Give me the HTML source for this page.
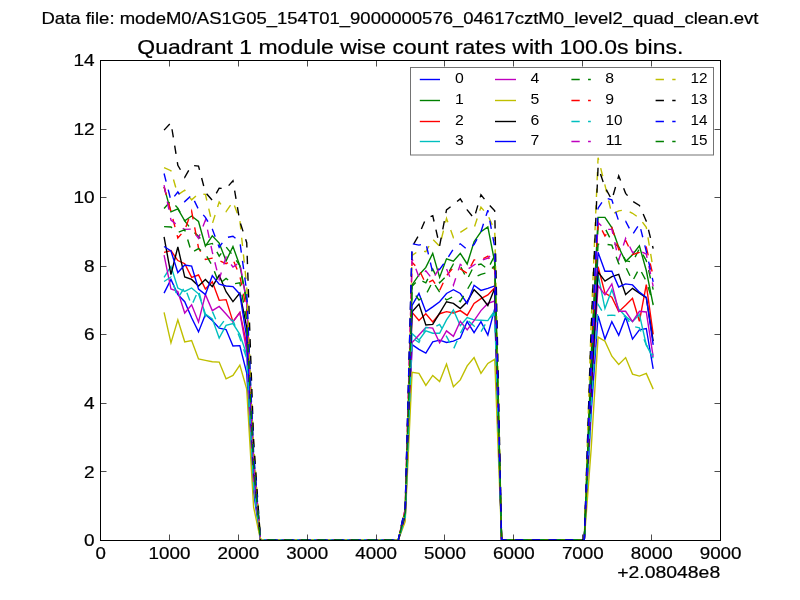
<!DOCTYPE html>
<html><head><meta charset="utf-8"><title>Quadrant 1 module wise count rates</title>
<style>
html,body{margin:0;padding:0;background:#fff;}
body{width:800px;height:600px;overflow:hidden;font-family:"Liberation Sans",sans-serif;}
svg{display:block;font-family:"Liberation Sans",sans-serif;}
</style></head><body>
<svg width="800" height="600" viewBox="0 0 800 600" style="will-change:transform">
<rect width="800" height="600" fill="#ffffff"/>
<defs><clipPath id="ax"><rect x="100" y="60" width="620" height="480"/></clipPath></defs>
<g clip-path="url(#ax)" fill="none" stroke-width="1.39" stroke-linejoin="miter" stroke-miterlimit="4" stroke-linecap="butt">
<polyline points="164.07,293.14 170.96,279.43 177.84,294.51 184.73,301.71 191.62,317.83 198.51,331.89 205.40,314.40 212.29,320.57 219.18,328.11 226.07,329.49 232.96,345.94 239.84,345.60 246.73,373.03 253.62,492.00 260.51,540.00 267.40,540.00 274.29,540.00 281.18,540.00 288.07,540.00 294.96,540.00 301.84,540.00 308.73,540.00 315.62,540.00 322.51,540.00 329.40,540.00 336.29,540.00 343.18,540.00 350.07,540.00 356.96,540.00 363.84,540.00 370.73,540.00 377.62,540.00 384.51,540.00 391.40,540.00 398.29,540.00 405.18,518.40 412.07,344.57 418.96,349.37 425.84,353.14 432.73,341.83 439.62,340.11 446.51,342.51 453.40,341.14 460.29,338.06 467.18,321.60 474.07,332.57 480.96,321.60 487.84,334.97 494.73,308.57 501.62,540.00 508.51,540.00 515.40,540.00 522.29,540.00 529.18,540.00 536.07,540.00 542.96,540.00 549.84,540.00 556.73,540.00 563.62,540.00 570.51,540.00 577.40,540.00 584.29,540.00 591.18,412.11 598.07,315.77 604.96,339.09 611.84,321.60 618.73,335.31 625.62,317.14 632.51,339.09 639.40,329.83 646.29,328.46 653.18,368.91" stroke="#0000ff"/>
<polyline points="164.07,186.86 170.96,211.89 177.84,208.80 184.73,220.80 191.62,216.00 198.51,221.49 205.40,246.17 212.29,235.89 219.18,243.09 226.07,260.91 232.96,246.51 239.84,265.71 246.73,300.00 253.62,458.06 260.51,540.00 267.40,540.00 274.29,540.00 281.18,540.00 288.07,540.00 294.96,540.00 301.84,540.00 308.73,540.00 315.62,540.00 322.51,540.00 329.40,540.00 336.29,540.00 343.18,540.00 350.07,540.00 356.96,540.00 363.84,540.00 370.73,540.00 377.62,540.00 384.51,540.00 391.40,540.00 398.29,540.00 405.18,511.89 412.07,284.91 418.96,274.97 425.84,267.43 432.73,253.37 439.62,277.37 446.51,258.86 453.40,261.26 460.29,253.37 467.18,264.00 474.07,241.71 480.96,231.77 487.84,226.97 494.73,262.29 501.62,540.00 508.51,540.00 515.40,540.00 522.29,540.00 529.18,540.00 536.07,540.00 542.96,540.00 549.84,540.00 556.73,540.00 563.62,540.00 570.51,540.00 577.40,540.00 584.29,540.00 591.18,356.23 598.07,217.37 604.96,217.37 611.84,227.66 618.73,247.20 625.62,261.60 632.51,254.74 639.40,245.83 646.29,270.51 653.18,305.14" stroke="#008000"/>
<polyline points="164.07,252.34 170.96,250.63 177.84,260.57 184.73,263.66 191.62,277.37 198.51,274.97 205.40,289.03 212.29,281.83 219.18,300.34 226.07,299.66 232.96,321.60 239.84,312.34 246.73,344.57 253.62,476.23 260.51,540.00 267.40,540.00 274.29,540.00 281.18,540.00 288.07,540.00 294.96,540.00 301.84,540.00 308.73,540.00 315.62,540.00 322.51,540.00 329.40,540.00 336.29,540.00 343.18,540.00 350.07,540.00 356.96,540.00 363.84,540.00 370.73,540.00 377.62,540.00 384.51,540.00 391.40,540.00 398.29,540.00 405.18,514.97 412.07,312.34 418.96,320.57 425.84,313.71 432.73,321.94 439.62,313.71 446.51,311.66 453.40,313.03 460.29,310.63 467.18,315.43 474.07,303.43 480.96,298.63 487.84,294.86 494.73,287.66 501.62,540.00 508.51,540.00 515.40,540.00 522.29,540.00 529.18,540.00 536.07,540.00 542.96,540.00 549.84,540.00 556.73,540.00 563.62,540.00 570.51,540.00 577.40,540.00 584.29,540.00 591.18,384.34 598.07,266.74 604.96,293.14 611.84,297.26 618.73,311.66 625.62,305.14 632.51,298.29 639.40,321.26 646.29,284.57 653.18,334.29" stroke="#ff0000"/>
<polyline points="164.07,277.37 170.96,266.40 177.84,288.00 184.73,291.43 191.62,288.00 198.51,293.83 205.40,314.06 212.29,318.86 219.18,338.06 226.07,325.37 232.96,323.66 239.84,334.29 246.73,354.86 253.62,485.49 260.51,540.00 267.40,540.00 274.29,540.00 281.18,540.00 288.07,540.00 294.96,540.00 301.84,540.00 308.73,540.00 315.62,540.00 322.51,540.00 329.40,540.00 336.29,540.00 343.18,540.00 350.07,540.00 356.96,540.00 363.84,540.00 370.73,540.00 377.62,540.00 384.51,540.00 391.40,540.00 398.29,540.00 405.18,517.37 412.07,333.60 418.96,340.11 425.84,330.86 432.73,333.26 439.62,333.26 446.51,319.89 453.40,309.94 460.29,325.71 467.18,317.49 474.07,319.89 480.96,320.23 487.84,320.57 494.73,310.63 501.62,540.00 508.51,540.00 515.40,540.00 522.29,540.00 529.18,540.00 536.07,540.00 542.96,540.00 549.84,540.00 556.73,540.00 563.62,540.00 570.51,540.00 577.40,540.00 584.29,540.00 591.18,388.80 598.07,274.97 604.96,308.57 611.84,289.71 618.73,308.91 625.62,316.46 632.51,321.60 639.40,314.40 646.29,344.91 653.18,358.29" stroke="#00bfbf"/>
<polyline points="164.07,255.09 170.96,289.03 177.84,291.43 184.73,313.03 191.62,304.80 198.51,321.94 205.40,294.51 212.29,310.63 219.18,306.51 226.07,314.06 232.96,321.94 239.84,312.69 246.73,351.43 253.62,479.31 260.51,540.00 267.40,540.00 274.29,540.00 281.18,540.00 288.07,540.00 294.96,540.00 301.84,540.00 308.73,540.00 315.62,540.00 322.51,540.00 329.40,540.00 336.29,540.00 343.18,540.00 350.07,540.00 356.96,540.00 363.84,540.00 370.73,540.00 377.62,540.00 384.51,540.00 391.40,540.00 398.29,540.00 405.18,518.40 412.07,342.51 418.96,334.97 425.84,327.43 432.73,328.11 439.62,342.86 446.51,330.86 453.40,336.34 460.29,321.26 467.18,329.83 474.07,320.57 480.96,310.63 487.84,303.43 494.73,301.03 501.62,540.00 508.51,540.00 515.40,540.00 522.29,540.00 529.18,540.00 536.07,540.00 542.96,540.00 549.84,540.00 556.73,540.00 563.62,540.00 570.51,540.00 577.40,540.00 584.29,540.00 591.18,394.97 598.07,285.60 604.96,294.86 611.84,283.89 618.73,311.31 625.62,311.31 632.51,321.60 639.40,311.31 646.29,312.00 653.18,356.91" stroke="#bf00bf"/>
<polyline points="164.07,312.34 170.96,342.86 177.84,319.89 184.73,341.83 191.62,340.46 198.51,358.97 205.40,360.34 212.29,361.71 219.18,362.06 226.07,378.86 232.96,375.43 239.84,365.14 246.73,389.14 253.62,507.09 260.51,540.00 267.40,540.00 274.29,540.00 281.18,540.00 288.07,540.00 294.96,540.00 301.84,540.00 308.73,540.00 315.62,540.00 322.51,540.00 329.40,540.00 336.29,540.00 343.18,540.00 350.07,540.00 356.96,540.00 363.84,540.00 370.73,540.00 377.62,540.00 384.51,540.00 391.40,540.00 398.29,540.00 405.18,521.49 412.07,372.34 418.96,373.37 425.84,385.37 432.73,375.43 439.62,381.60 446.51,364.11 453.40,386.74 460.29,379.89 467.18,365.83 474.07,357.60 480.96,373.37 487.84,363.43 494.73,359.31 501.62,540.00 508.51,540.00 515.40,540.00 522.29,540.00 529.18,540.00 536.07,540.00 542.96,540.00 549.84,540.00 556.73,540.00 563.62,540.00 570.51,540.00 577.40,540.00 584.29,540.00 591.18,448.80 598.07,337.03 604.96,341.14 611.84,356.23 618.73,364.46 625.62,357.60 632.51,374.06 639.40,376.11 646.29,373.37 653.18,389.14" stroke="#bfbf00"/>
<polyline points="164.07,236.91 170.96,274.63 177.84,246.86 184.73,277.03 191.62,279.43 198.51,285.94 205.40,279.43 212.29,286.63 219.18,275.31 226.07,291.77 232.96,301.71 239.84,293.14 246.73,327.43 253.62,469.03 260.51,540.00 267.40,540.00 274.29,540.00 281.18,540.00 288.07,540.00 294.96,540.00 301.84,540.00 308.73,540.00 315.62,540.00 322.51,540.00 329.40,540.00 336.29,540.00 343.18,540.00 350.07,540.00 356.96,540.00 363.84,540.00 370.73,540.00 377.62,540.00 384.51,540.00 391.40,540.00 398.29,540.00 405.18,514.97 412.07,311.66 418.96,304.11 425.84,325.03 432.73,324.34 439.62,313.03 446.51,301.71 453.40,303.43 460.29,308.57 467.18,301.71 474.07,289.71 480.96,296.57 487.84,305.49 494.73,288.34 501.62,540.00 508.51,540.00 515.40,540.00 522.29,540.00 529.18,540.00 536.07,540.00 542.96,540.00 549.84,540.00 556.73,540.00 563.62,540.00 570.51,540.00 577.40,540.00 584.29,540.00 591.18,387.09 598.07,271.89 604.96,281.14 611.84,276.69 618.73,274.29 625.62,294.51 632.51,288.34 639.40,293.14 646.29,297.60 653.18,341.14" stroke="#000000"/>
<polyline points="164.07,246.51 170.96,250.97 177.84,272.57 184.73,265.03 191.62,266.06 198.51,289.03 205.40,294.51 212.29,275.66 219.18,284.23 226.07,285.94 232.96,286.63 239.84,294.17 246.73,337.71 253.62,467.31 260.51,540.00 267.40,540.00 274.29,540.00 281.18,540.00 288.07,540.00 294.96,540.00 301.84,540.00 308.73,540.00 315.62,540.00 322.51,540.00 329.40,540.00 336.29,540.00 343.18,540.00 350.07,540.00 356.96,540.00 363.84,540.00 370.73,540.00 377.62,540.00 384.51,540.00 391.40,540.00 398.29,540.00 405.18,514.29 412.07,305.49 418.96,293.49 425.84,311.66 432.73,306.86 439.62,301.71 446.51,293.49 453.40,289.71 460.29,293.49 467.18,303.43 474.07,285.26 480.96,290.40 487.84,288.34 494.73,285.94 501.62,540.00 508.51,540.00 515.40,540.00 522.29,540.00 529.18,540.00 536.07,540.00 542.96,540.00 549.84,540.00 556.73,540.00 563.62,540.00 570.51,540.00 577.40,540.00 584.29,540.00 591.18,376.11 598.07,252.34 604.96,271.20 611.84,271.20 618.73,286.97 625.62,283.89 632.51,284.91 639.40,292.11 646.29,297.26 653.18,344.91" stroke="#0000ff"/>
<polyline points="164.07,208.46 170.96,200.91 177.84,208.11 184.73,220.80 191.62,230.06 198.51,236.23 205.40,245.14 212.29,243.43 219.18,256.11 226.07,246.86 232.96,255.43 239.84,265.71 246.73,303.43 253.62,457.71 260.51,540.00" stroke="#008000" stroke-dasharray="8.33 8.34" stroke-dashoffset="0.00"/>
<polyline points="260.51,540.00 398.29,540.00" stroke="#008000" stroke-dasharray="8.33 8.34" stroke-dashoffset="9.35"/>
<polyline points="398.29,540.00 405.18,512.23 412.07,286.29 418.96,279.43 425.84,282.86 432.73,269.14 439.62,282.86 446.51,276.00 453.40,264.00 460.29,265.71 467.18,279.43 474.07,265.71 480.96,264.00 487.84,269.14 494.73,255.43 501.62,540.00" stroke="#008000" stroke-dasharray="8.33 8.34" stroke-dashoffset="15.18"/>
<polyline points="501.62,540.00 584.29,540.00" stroke="#008000" stroke-dasharray="8.33 8.34" stroke-dashoffset="11.66"/>
<polyline points="584.29,540.00 591.18,361.71 598.07,226.97 604.96,228.00 611.84,241.71 618.73,246.86 625.62,260.57 632.51,262.29 639.40,248.57 646.29,260.57 653.18,289.71" stroke="#008000" stroke-dasharray="8.33 8.34" stroke-dashoffset="10.99"/>
<polyline points="164.07,186.86 170.96,211.54 177.84,237.94 184.73,230.06 191.62,211.20 198.51,247.89 205.40,259.54 212.29,258.17 219.18,260.57 226.07,263.66 232.96,259.54 239.84,276.00 246.73,310.29 253.62,460.80 260.51,540.00" stroke="#ff0000" stroke-dasharray="8.33 8.34" stroke-dashoffset="0.00"/>
<polyline points="260.51,540.00 398.29,540.00" stroke="#ff0000" stroke-dasharray="8.33 8.34" stroke-dashoffset="9.35"/>
<polyline points="398.29,540.00 405.18,509.49 412.07,262.29 418.96,269.49 425.84,283.89 432.73,280.11 439.62,290.40 446.51,275.66 453.40,267.43 460.29,268.80 467.18,273.26 474.07,259.89 480.96,259.89 487.84,256.11 494.73,270.17 501.62,540.00" stroke="#ff0000" stroke-dasharray="8.33 8.34" stroke-dashoffset="8.48"/>
<polyline points="501.62,540.00 584.29,540.00" stroke="#ff0000" stroke-dasharray="8.33 8.34" stroke-dashoffset="7.46"/>
<polyline points="584.29,540.00 591.18,358.97 598.07,222.51 604.96,235.89 611.84,227.66 618.73,249.60 625.62,240.34 632.51,254.74 639.40,252.34 646.29,247.20 653.18,276.00" stroke="#ff0000" stroke-dasharray="8.33 8.34" stroke-dashoffset="6.79"/>
<polyline points="164.07,281.49 170.96,277.03 177.84,298.29 184.73,286.97 191.62,305.49 198.51,290.06 205.40,316.46 212.29,311.31 219.18,327.43 226.07,318.17 232.96,320.57 239.84,338.06 246.73,358.29 253.62,484.46 260.51,540.00" stroke="#00bfbf" stroke-dasharray="8.33 8.34" stroke-dashoffset="0.00"/>
<polyline points="260.51,540.00 398.29,540.00" stroke="#00bfbf" stroke-dasharray="8.33 8.34" stroke-dashoffset="2.75"/>
<polyline points="398.29,540.00 405.18,517.71 412.07,337.71 418.96,342.51 425.84,327.43 432.73,328.11 439.62,324.34 446.51,336.34 453.40,349.37 460.29,333.60 467.18,319.89 474.07,326.06 480.96,331.89 487.84,319.89 494.73,313.71 501.62,540.00" stroke="#00bfbf" stroke-dasharray="8.33 8.34" stroke-dashoffset="10.54"/>
<polyline points="501.62,540.00 584.29,540.00" stroke="#00bfbf" stroke-dasharray="8.33 8.34" stroke-dashoffset="15.96"/>
<polyline points="584.29,540.00 591.18,405.60 598.07,304.46 604.96,315.77 611.84,315.09 618.73,315.77 625.62,316.46 632.51,326.40 639.40,327.77 646.29,344.91 653.18,354.86" stroke="#00bfbf" stroke-dasharray="8.33 8.34" stroke-dashoffset="15.29"/>
<polyline points="164.07,185.14 170.96,220.11 177.84,225.60 184.73,229.37 191.62,229.03 198.51,238.29 205.40,220.11 212.29,252.00 219.18,279.43 226.07,257.14 232.96,267.09 239.84,262.29 246.73,303.43 253.62,459.43 260.51,540.00" stroke="#bf00bf" stroke-dasharray="8.33 8.34" stroke-dashoffset="0.00"/>
<polyline points="260.51,540.00 398.29,540.00" stroke="#bf00bf" stroke-dasharray="8.33 8.34" stroke-dashoffset="11.05"/>
<polyline points="398.29,540.00 405.18,509.14 412.07,258.86 418.96,277.03 425.84,270.86 432.73,279.43 439.62,267.43 446.51,268.80 453.40,285.26 460.29,264.34 467.18,269.49 474.07,265.03 480.96,260.57 487.84,258.17 494.73,251.66 501.62,540.00" stroke="#bf00bf" stroke-dasharray="8.33 8.34" stroke-dashoffset="7.36"/>
<polyline points="501.62,540.00 584.29,540.00" stroke="#bf00bf" stroke-dasharray="8.33 8.34" stroke-dashoffset="3.29"/>
<polyline points="584.29,540.00 591.18,358.97 598.07,222.51 604.96,229.37 611.84,229.37 618.73,259.89 625.62,238.29 632.51,252.34 639.40,250.97 646.29,254.06 653.18,286.29" stroke="#bf00bf" stroke-dasharray="8.33 8.34" stroke-dashoffset="2.62"/>
<polyline points="164.07,167.66 170.96,170.74 177.84,194.74 184.73,190.29 191.62,199.89 198.51,193.71 205.40,194.40 212.29,223.89 219.18,201.94 226.07,211.54 232.96,201.60 239.84,220.11 246.73,286.29 253.62,444.69 260.51,540.00" stroke="#bfbf00" stroke-dasharray="8.33 8.34" stroke-dashoffset="0.00"/>
<polyline points="260.51,540.00 398.29,540.00" stroke="#bfbf00" stroke-dasharray="8.33 8.34" stroke-dashoffset="4.95"/>
<polyline points="398.29,540.00 405.18,508.80 412.07,255.43 418.96,250.63 425.84,251.66 432.73,239.31 439.62,246.17 446.51,218.40 453.40,237.60 460.29,232.46 467.18,228.00 474.07,228.00 480.96,207.09 487.84,215.31 494.73,230.40 501.62,540.00" stroke="#bfbf00" stroke-dasharray="8.33 8.34" stroke-dashoffset="1.12"/>
<polyline points="501.62,540.00 584.29,540.00" stroke="#bfbf00" stroke-dasharray="8.33 8.34" stroke-dashoffset="7.46"/>
<polyline points="584.29,540.00 591.18,321.94 598.07,157.71 604.96,185.14 611.84,214.29 618.73,210.86 625.62,209.83 632.51,213.26 639.40,218.06 646.29,227.31 653.18,269.14" stroke="#bfbf00" stroke-dasharray="8.33 8.34" stroke-dashoffset="6.79"/>
<polyline points="164.07,130.11 170.96,122.74 177.84,165.26 184.73,177.26 191.62,165.26 198.51,166.11 205.40,192.34 212.29,200.23 219.18,188.23 226.07,188.57 232.96,180.69 239.84,221.49 246.73,242.74 253.62,440.57 260.51,540.00" stroke="#000000" stroke-dasharray="8.33 8.34" stroke-dashoffset="0.00"/>
<polyline points="260.51,540.00 398.29,540.00" stroke="#000000" stroke-dasharray="8.33 8.34" stroke-dashoffset="9.35"/>
<polyline points="398.29,540.00 405.18,507.77 412.07,246.86 418.96,234.86 425.84,218.40 432.73,215.66 439.62,245.83 446.51,209.83 453.40,204.69 460.29,198.86 467.18,209.83 474.07,218.40 480.96,194.74 487.84,203.31 494.73,210.86 501.62,540.00" stroke="#000000" stroke-dasharray="8.33 8.34" stroke-dashoffset="2.68"/>
<polyline points="501.62,540.00 584.29,540.00" stroke="#000000" stroke-dasharray="8.33 8.34" stroke-dashoffset="3.29"/>
<polyline points="584.29,540.00 591.18,327.43 598.07,166.97 604.96,187.20 611.84,199.89 618.73,175.89 625.62,193.37 632.51,201.26 639.40,205.37 646.29,221.14 653.18,248.57" stroke="#000000" stroke-dasharray="8.33 8.34" stroke-dashoffset="2.62"/>
<polyline points="164.07,173.49 170.96,200.57 177.84,192.00 184.73,201.60 191.62,195.09 198.51,209.49 205.40,217.37 212.29,229.03 219.18,247.20 226.07,237.60 232.96,236.23 239.84,241.71 246.73,291.77 253.62,452.57 260.51,540.00" stroke="#0000ff" stroke-dasharray="8.33 8.34" stroke-dashoffset="0.00"/>
<polyline points="260.51,540.00 398.29,540.00" stroke="#0000ff" stroke-dasharray="8.33 8.34" stroke-dashoffset="7.75"/>
<polyline points="398.29,540.00 405.18,507.43 412.07,243.77 418.96,245.14 425.84,243.09 432.73,272.57 439.62,269.49 446.51,259.89 453.40,248.91 460.29,243.77 467.18,249.60 474.07,244.46 480.96,231.77 487.84,210.17 494.73,247.20 501.62,540.00" stroke="#0000ff" stroke-dasharray="8.33 8.34" stroke-dashoffset="2.25"/>
<polyline points="501.62,540.00 584.29,540.00" stroke="#0000ff" stroke-dasharray="8.33 8.34" stroke-dashoffset="3.29"/>
<polyline points="584.29,540.00 591.18,350.74 598.07,208.11 604.96,197.83 611.84,199.89 618.73,221.14 625.62,221.14 632.51,234.51 639.40,223.89 646.29,251.31 653.18,281.83" stroke="#0000ff" stroke-dasharray="8.33 8.34" stroke-dashoffset="2.62"/>
<polyline points="164.07,226.63 170.96,226.97 177.84,232.46 184.73,229.71 191.62,252.69 198.51,248.57 205.40,254.06 212.29,265.71 219.18,283.89 226.07,278.40 232.96,283.89 239.84,282.86 246.73,320.57 253.62,465.26 260.51,540.00" stroke="#008000" stroke-dasharray="8.33 8.34" stroke-dashoffset="0.00"/>
<polyline points="260.51,540.00 398.29,540.00" stroke="#008000" stroke-dasharray="8.33 8.34" stroke-dashoffset="10.05"/>
<polyline points="398.29,540.00 405.18,512.57 412.07,290.40 418.96,300.00 425.84,294.86 432.73,281.49 439.62,292.11 446.51,300.00 453.40,296.57 460.29,301.71 467.18,289.71 474.07,277.71 480.96,274.29 487.84,272.57 494.73,265.71 501.62,540.00" stroke="#008000" stroke-dasharray="8.33 8.34" stroke-dashoffset="9.67"/>
<polyline points="501.62,540.00 584.29,540.00" stroke="#008000" stroke-dasharray="8.33 8.34" stroke-dashoffset="11.66"/>
<polyline points="584.29,540.00 591.18,371.31 598.07,244.11 604.96,244.11 611.84,245.14 618.73,263.66 625.62,266.74 632.51,281.14 639.40,268.11 646.29,281.14 653.18,303.43" stroke="#008000" stroke-dasharray="8.33 8.34" stroke-dashoffset="10.99"/>
</g>
<rect x="100.5" y="60.5" width="620" height="480" fill="none" stroke="#000" stroke-width="1"/>
<g stroke="#000" stroke-width="0.7" fill="none">
<path d="M100.5 540.5v-6M100.5 60.5v6"/>
<path d="M169.5 540.5v-6M169.5 60.5v6"/>
<path d="M238.5 540.5v-6M238.5 60.5v6"/>
<path d="M307.5 540.5v-6M307.5 60.5v6"/>
<path d="M376.5 540.5v-6M376.5 60.5v6"/>
<path d="M444.5 540.5v-6M444.5 60.5v6"/>
<path d="M513.5 540.5v-6M513.5 60.5v6"/>
<path d="M582.5 540.5v-6M582.5 60.5v6"/>
<path d="M651.5 540.5v-6M651.5 60.5v6"/>
<path d="M720.5 540.5v-6M720.5 60.5v6"/>
<path d="M100.5 540.5h6M720.5 540.5h-6"/>
<path d="M100.5 471.5h6M720.5 471.5h-6"/>
<path d="M100.5 403.5h6M720.5 403.5h-6"/>
<path d="M100.5 334.5h6M720.5 334.5h-6"/>
<path d="M100.5 266.5h6M720.5 266.5h-6"/>
<path d="M100.5 197.5h6M720.5 197.5h-6"/>
<path d="M100.5 129.5h6M720.5 129.5h-6"/>
<path d="M100.5 60.5h6M720.5 60.5h-6"/>
</g>
<g>
<rect x="410.5" y="67.5" width="303" height="87.5" fill="#fff" stroke="#000" stroke-opacity="0.55" stroke-width="1"/>
<path d="M419.8 79.50H440.0" stroke="#0000ff" stroke-width="1.39" fill="none"/>
<text x="454.90" y="83.10" font-size="14" text-anchor="start" textLength="8.8" lengthAdjust="spacingAndGlyphs">0</text>
<path d="M419.8 100.50H440.0" stroke="#008000" stroke-width="1.39" fill="none"/>
<text x="454.90" y="104.10" font-size="14" text-anchor="start" textLength="8.8" lengthAdjust="spacingAndGlyphs">1</text>
<path d="M419.8 121.50H440.0" stroke="#ff0000" stroke-width="1.39" fill="none"/>
<text x="454.90" y="125.10" font-size="14" text-anchor="start" textLength="8.8" lengthAdjust="spacingAndGlyphs">2</text>
<path d="M419.8 141.50H440.0" stroke="#00bfbf" stroke-width="1.39" fill="none"/>
<text x="454.90" y="145.10" font-size="14" text-anchor="start" textLength="8.8" lengthAdjust="spacingAndGlyphs">3</text>
<path d="M495.0 79.50H516.0" stroke="#bf00bf" stroke-width="1.39" fill="none"/>
<text x="530.40" y="83.10" font-size="14" text-anchor="start" textLength="8.8" lengthAdjust="spacingAndGlyphs">4</text>
<path d="M495.0 100.50H516.0" stroke="#bfbf00" stroke-width="1.39" fill="none"/>
<text x="530.40" y="104.10" font-size="14" text-anchor="start" textLength="8.8" lengthAdjust="spacingAndGlyphs">5</text>
<path d="M495.0 121.50H516.0" stroke="#000000" stroke-width="1.39" fill="none"/>
<text x="530.40" y="125.10" font-size="14" text-anchor="start" textLength="8.8" lengthAdjust="spacingAndGlyphs">6</text>
<path d="M495.0 141.50H516.0" stroke="#0000ff" stroke-width="1.39" fill="none"/>
<text x="530.40" y="145.10" font-size="14" text-anchor="start" textLength="8.8" lengthAdjust="spacingAndGlyphs">7</text>
<path d="M571.4 79.50H590.8" stroke="#008000" stroke-width="1.39" fill="none" stroke-dasharray="8.33 8.33"/>
<text x="605.20" y="83.10" font-size="14" text-anchor="start" textLength="8.8" lengthAdjust="spacingAndGlyphs">8</text>
<path d="M571.4 100.50H590.8" stroke="#ff0000" stroke-width="1.39" fill="none" stroke-dasharray="8.33 8.33"/>
<text x="605.20" y="104.10" font-size="14" text-anchor="start" textLength="8.8" lengthAdjust="spacingAndGlyphs">9</text>
<path d="M571.4 121.50H590.8" stroke="#00bfbf" stroke-width="1.39" fill="none" stroke-dasharray="8.33 8.33"/>
<text x="605.40" y="125.10" font-size="14" text-anchor="start" textLength="17.0" lengthAdjust="spacingAndGlyphs">10</text>
<path d="M571.4 141.50H590.8" stroke="#bf00bf" stroke-width="1.39" fill="none" stroke-dasharray="8.33 8.33"/>
<text x="605.40" y="145.10" font-size="14" text-anchor="start" textLength="17.0" lengthAdjust="spacingAndGlyphs">11</text>
<path d="M655.6 79.50H675.6" stroke="#bfbf00" stroke-width="1.39" fill="none" stroke-dasharray="8.33 8.33"/>
<text x="690.40" y="83.10" font-size="14" text-anchor="start" textLength="17.0" lengthAdjust="spacingAndGlyphs">12</text>
<path d="M655.6 100.50H675.6" stroke="#000000" stroke-width="1.39" fill="none" stroke-dasharray="8.33 8.33"/>
<text x="690.40" y="104.10" font-size="14" text-anchor="start" textLength="17.0" lengthAdjust="spacingAndGlyphs">13</text>
<path d="M655.6 121.50H675.6" stroke="#0000ff" stroke-width="1.39" fill="none" stroke-dasharray="8.33 8.33"/>
<text x="690.40" y="125.10" font-size="14" text-anchor="start" textLength="17.0" lengthAdjust="spacingAndGlyphs">14</text>
<path d="M655.6 141.50H675.6" stroke="#008000" stroke-width="1.39" fill="none" stroke-dasharray="8.33 8.33"/>
<text x="690.40" y="145.10" font-size="14" text-anchor="start" textLength="17.0" lengthAdjust="spacingAndGlyphs">15</text>
</g>
<g fill="#000" stroke="#000" stroke-width="0.22">
<text x="400.00" y="24.20" font-size="17" text-anchor="middle" textLength="717.0" lengthAdjust="spacingAndGlyphs">Data file: modeM0/AS1G05_154T01_9000000576_04617cztM0_level2_quad_clean.evt</text>
<text x="410.30" y="53.80" font-size="20.4" text-anchor="middle" textLength="546.0" lengthAdjust="spacingAndGlyphs">Quadrant 1 module wise count rates with 100.0s bins.</text>
<text x="100.60" y="558.60" font-size="17" text-anchor="middle" textLength="10.4" lengthAdjust="spacingAndGlyphs">0</text>
<text x="169.49" y="558.60" font-size="17" text-anchor="middle" textLength="41.8" lengthAdjust="spacingAndGlyphs">1000</text>
<text x="238.38" y="558.60" font-size="17" text-anchor="middle" textLength="41.8" lengthAdjust="spacingAndGlyphs">2000</text>
<text x="307.27" y="558.60" font-size="17" text-anchor="middle" textLength="41.8" lengthAdjust="spacingAndGlyphs">3000</text>
<text x="376.16" y="558.60" font-size="17" text-anchor="middle" textLength="41.8" lengthAdjust="spacingAndGlyphs">4000</text>
<text x="445.04" y="558.60" font-size="17" text-anchor="middle" textLength="41.8" lengthAdjust="spacingAndGlyphs">5000</text>
<text x="513.93" y="558.60" font-size="17" text-anchor="middle" textLength="41.8" lengthAdjust="spacingAndGlyphs">6000</text>
<text x="582.82" y="558.60" font-size="17" text-anchor="middle" textLength="41.8" lengthAdjust="spacingAndGlyphs">7000</text>
<text x="651.71" y="558.60" font-size="17" text-anchor="middle" textLength="41.8" lengthAdjust="spacingAndGlyphs">8000</text>
<text x="720.60" y="558.60" font-size="17" text-anchor="middle" textLength="41.8" lengthAdjust="spacingAndGlyphs">9000</text>
<text x="94.70" y="546.10" font-size="17" text-anchor="end" textLength="10.6" lengthAdjust="spacingAndGlyphs">0</text>
<text x="94.70" y="477.53" font-size="17" text-anchor="end" textLength="10.6" lengthAdjust="spacingAndGlyphs">2</text>
<text x="94.70" y="408.96" font-size="17" text-anchor="end" textLength="10.6" lengthAdjust="spacingAndGlyphs">4</text>
<text x="94.70" y="340.39" font-size="17" text-anchor="end" textLength="10.6" lengthAdjust="spacingAndGlyphs">6</text>
<text x="94.70" y="271.81" font-size="17" text-anchor="end" textLength="10.6" lengthAdjust="spacingAndGlyphs">8</text>
<text x="94.70" y="203.24" font-size="17" text-anchor="end" textLength="21.2" lengthAdjust="spacingAndGlyphs">10</text>
<text x="94.70" y="134.67" font-size="17" text-anchor="end" textLength="21.2" lengthAdjust="spacingAndGlyphs">12</text>
<text x="94.70" y="66.10" font-size="17" text-anchor="end" textLength="21.2" lengthAdjust="spacingAndGlyphs">14</text>
<text x="720.20" y="577.60" font-size="17" text-anchor="end" textLength="103.0" lengthAdjust="spacingAndGlyphs">+2.08048e8</text>
</g>
</svg>
</body></html>
